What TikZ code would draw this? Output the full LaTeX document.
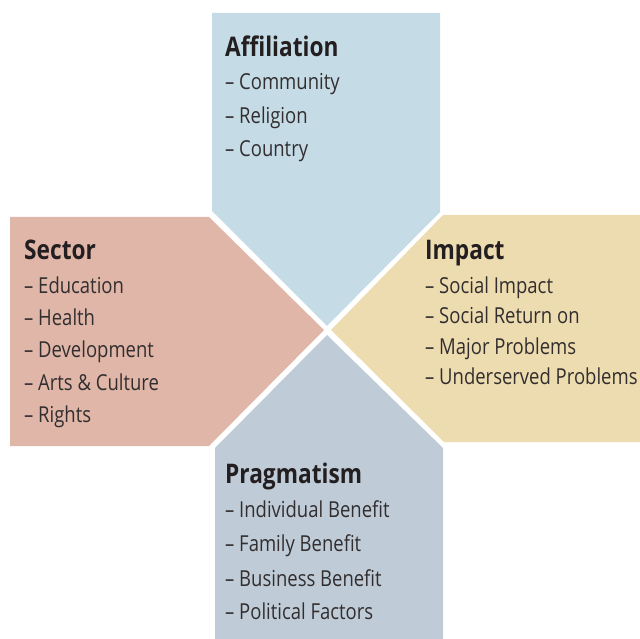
\documentclass[tikz,border=0pt]{standalone}
\usepackage{fontspec}
\setmainfont{Open Sans}[FakeStretch=0.84]
\definecolor{cA}{RGB}{197,219,229}
\definecolor{cS}{RGB}{223,182,168}
\definecolor{cI}{RGB}{237,220,176}
\definecolor{cP}{RGB}{191,204,215}
\definecolor{txt}{RGB}{35,31,32}
\definecolor{txtl}{RGB}{50,46,47}
\tikzset{
  head/.style={anchor=base west, inner sep=0pt, text=txt, font=\fontsize{27}{30}\selectfont\bfseries},
  item/.style={anchor=base west, inner sep=0pt, text=txtl, font=\fontsize{22}{26}\selectfont},
}
\begin{document}
\begin{tikzpicture}[x=1pt,y=-1pt]
\useasboundingbox (0,0) rectangle (640,639);
% shapes
\fill[cA] (212,13) -- (440,13) -- (440,212) -- (327,326) -- (212,211) -- cycle;
\fill[cS] (10,217) -- (209,217) -- (324,330) -- (209,446) -- (10,446) -- cycle;
\fill[cI] (443,215) -- (640,215) -- (640,442) -- (444,442) -- (331,330) -- cycle;
\fill[cP] (327,335) -- (443,448) -- (443,639) -- (215,639) -- (215,448) -- cycle;
% Affiliation
\node[head] (a0) at (225,57) {Affiliation};
\node[item] (a1) at (225,90) {– Community};
\node[item] (a2) at (225,124) {– Religion};
\node[item] (a3) at (225,157) {– Country};
% Sector
\node[head] (s0) at (24,259) {Sector};
\node[item] (s1) at (24,293) {– Education};
\node[item] (s2) at (24,325) {– Health};
\node[item] (s3) at (24,357) {– Development};
\node[item] (s4) at (24,390) {– Arts \& Culture};
\node[item] (s5) at (24,422) {– Rights};
% Impact
\node[head] (i0) at (425,259) {Impact};
\node[item] (i1) at (425,293) {– Social Impact};
\node[item] (i2) at (425,323) {– Social Return on};
\node[item] (i3) at (425,354) {– Major Problems};
\node[item] (i4) at (425,384) {– Underserved Problems};
% Pragmatism
\node[head] (p0) at (225,483) {Pragmatism};
\node[item] (p1) at (225,517) {– Individual Benefit};
\node[item] (p2) at (225,551) {– Family Benefit};
\node[item] (p3) at (225,586) {– Business Benefit};
\node[item] (p4) at (225,619) {– Political Factors};
\end{tikzpicture}
\end{document}
